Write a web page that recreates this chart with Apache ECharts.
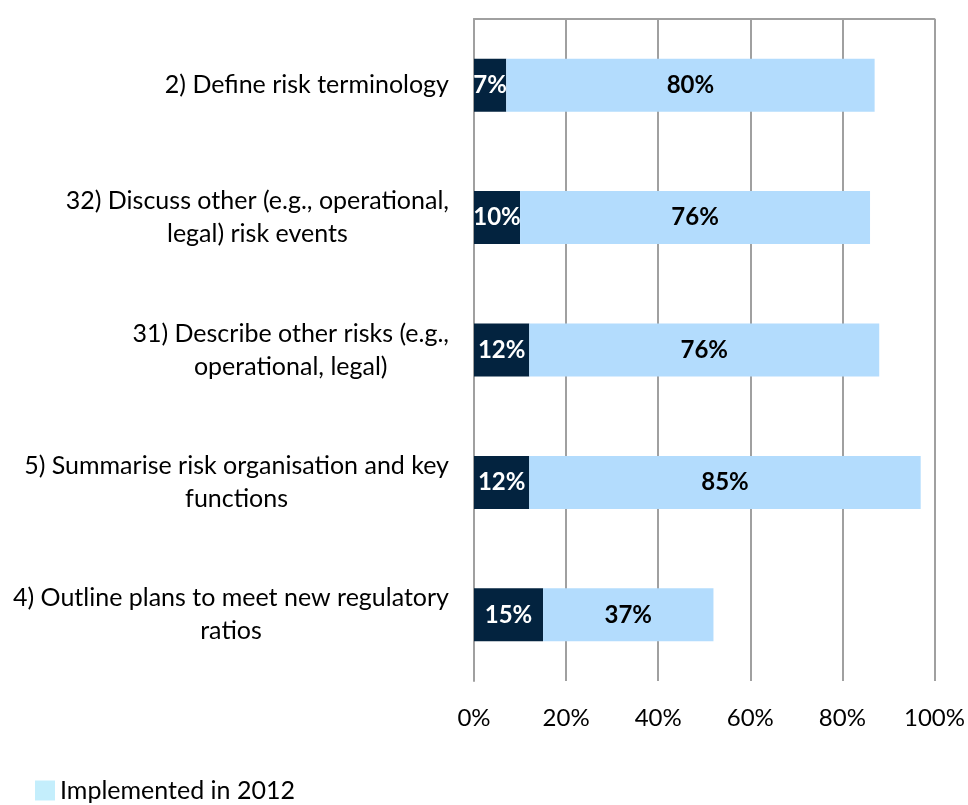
<!DOCTYPE html>
<html>
<head>
<meta charset="utf-8">
<script src="https://cdn.jsdelivr.net/npm/echarts@6/dist/echarts.min.js"></script>
<style>
html,body{margin:0;padding:0;background:#fff;}
#chart{width:968px;height:805px;}
</style>
</head>
<body>
<div id="chart"></div>
<script>
const categories = [
  '2) Define risk terminology',
  '32) Discuss other (e.g., operational,\nlegal) risk events',
  '31) Describe other risks (e.g.,\noperational, legal)',
  '5) Summarise risk organisation and key\nfunctions',
  '4) Outline plans to meet new regulatory\nratios'
];
const earlierValues = [7, 10, 12, 12, 15];
const implemented2012 = [80, 76, 76, 85, 37];
const xTicks = [0, 20, 40, 60, 80, 100];

const FONT = 'Lato';
const chart = echarts.init(document.getElementById('chart'));
chart.setOption({
  animation: false,
  textStyle: { fontFamily: FONT },
  grid: { left: 474, right: 31, top: 19, bottom: 124 },
  legend: {
    data: [{ name: 'Implemented in 2012', itemStyle: { color: '#c4eefc' } }],
    left: 35, top: 778, padding: 0,
    itemWidth: 20, itemHeight: 20, itemGap: 5,
    icon: 'rect',
    textStyle: { fontFamily: FONT, fontSize: 25, color: '#000', padding: [8, 0, 0, 0] }
  },
  xAxis: [{
    type: 'value', min: 0, max: 100, interval: 20,
    axisLine: { show: false },
    axisTick: { show: false },
    splitLine: { lineStyle: { color: '#a0a0a0', width: 2 } },
    axisLabel: { formatter: v => xTicks.includes(v) ? v + '%' : '', fontSize: 24, color: '#000', margin: 25, fontFamily: FONT }
  }, {
    type: 'value', min: 0, max: 100, position: 'top',
    axisLine: { show: true, lineStyle: { color: '#a0a0a0', width: 2 } },
    axisTick: { show: false }, axisLabel: { show: false }, splitLine: { show: false }
  }],
  yAxis: {
    type: 'category', inverse: true, data: categories,
    axisLine: { lineStyle: { color: '#a0a0a0', width: 2 } },
    axisTick: { length: 8, lineStyle: { color: '#a0a0a0', width: 2 } },
    axisLabel: {
      margin: 25, align: 'right', color: '#000',
      formatter: v => v.split('\n').map(l => '{c|' + l + '}').join('\n'),
      rich: { c: { align: 'center', fontSize: 25, lineHeight: 33, color: '#000', fontFamily: FONT } }
    }
  },
  series: [{
    name: 'Implemented before 2012', type: 'bar', stack: 'a', data: earlierValues,
    barWidth: 53,
    itemStyle: { color: '#03233f' },
    label: { show: true, position: 'inside', formatter: p => p.value + '%', color: '#fff', fontWeight: 'bold', fontSize: 24, fontFamily: FONT }
  }, {
    name: 'Implemented in 2012', type: 'bar', stack: 'a', data: implemented2012,
    barWidth: 53,
    itemStyle: { color: '#b3dcfd' },
    label: { show: true, position: 'inside', formatter: p => p.value + '%', color: '#000', fontWeight: 'bold', fontSize: 24, fontFamily: FONT }
  }]
});
</script>
</body>
</html>
